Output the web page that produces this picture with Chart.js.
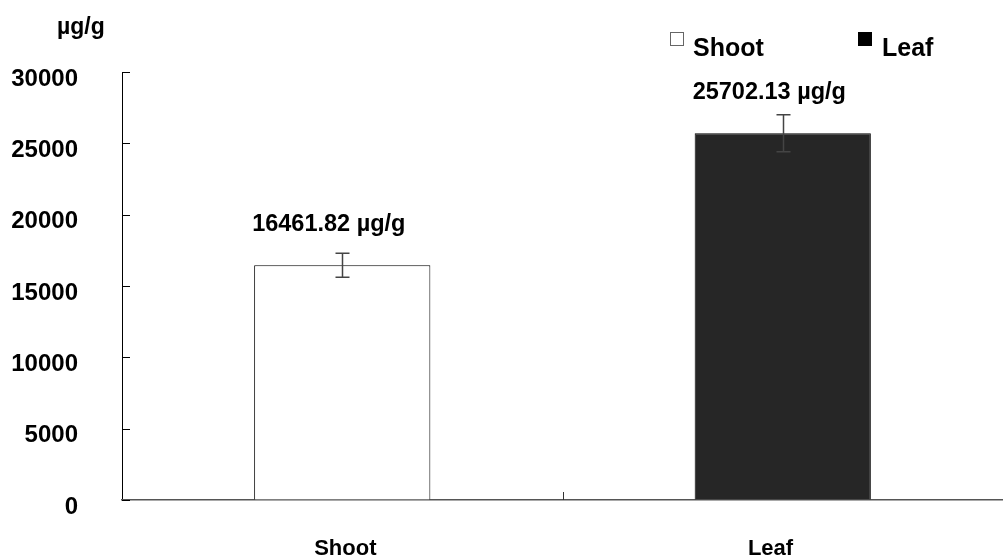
<!DOCTYPE html>
<html>
<head>
<meta charset="utf-8">
<script src="https://cdn.jsdelivr.net/npm/chart.js@4/dist/chart.umd.min.js"></script>
<style>
    html, body { margin: 0; padding: 0; background: #fff; }
    #wrap { width: 1003px; height: 559px; position: relative; }
</style>
</head>
<body>
<div id="wrap"><canvas id="chartTeor"></canvas></div>
<script>
// dados
const categorias = ['Shoot', 'Leaf'];
const valores = [16461.82, 25702.13];
const erros = [840, 1300];
const rotulosValor = ['16461.82 µg/g', '25702.13 µg/g'];
const coresBarra = ['#ffffff', '#262626'];
const ticksY = [0, 5000, 10000, 15000, 20000, 25000, 30000];

const fonte = '"Liberation Sans", Arial, sans-serif';

const pluginExtras = {
    id: 'extras',
    afterDatasetsDraw(chart) {
        const ctx = chart.ctx;
        const area = chart.chartArea;
        const y = chart.scales.y;
        const meta = chart.getDatasetMeta(0);

        ctx.save();

        // marcas do eixo y (para dentro)
        ctx.strokeStyle = '#000';
        ctx.lineWidth = 1;
        ticksY.forEach(function(v) {
            const py = Math.round(y.getPixelForValue(v)) + 0.5;
            ctx.beginPath();
            ctx.moveTo(area.left, py);
            ctx.lineTo(area.left + 8, py);
            ctx.stroke();
        });

        // marca central do eixo x
        const meio = Math.round((area.left + area.right) / 2) + 0.5;
        ctx.strokeStyle = '#333';
        ctx.beginPath();
        ctx.moveTo(meio, area.bottom);
        ctx.lineTo(meio, area.bottom - 8);
        ctx.stroke();

        // barras de erro
        ctx.strokeStyle = '#444';
        ctx.lineWidth = 1.5;
        meta.data.forEach(function(bar, i) {
            const cx = Math.round(bar.x) + 0.5;
            const topo = y.getPixelForValue(valores[i] + erros[i]);
            const base = y.getPixelForValue(valores[i] - erros[i]);
            ctx.beginPath();
            ctx.moveTo(cx, topo);
            ctx.lineTo(cx, base);
            ctx.moveTo(cx - 7, topo);
            ctx.lineTo(cx + 7, topo);
            ctx.moveTo(cx - 7, base);
            ctx.lineTo(cx + 7, base);
            ctx.stroke();
        });

        // rótulos de valor
        ctx.fillStyle = '#000';
        ctx.font = 'bold 23.5px ' + fonte;
        ctx.textAlign = 'left';
        ctx.textBaseline = 'middle';
        meta.data.forEach(function(bar, i) {
            ctx.fillText(rotulosValor[i], bar.x - bar.width / 2 - 2, bar.y - 41);
        });

        // unidade do eixo y
        ctx.font = 'bold 23px ' + fonte;
        ctx.textBaseline = 'middle';
        ctx.fillText('µg/g', 57, 28);

        // legenda
        ctx.lineWidth = 1;
        ctx.strokeStyle = '#666';
        ctx.fillStyle = '#fff';
        ctx.fillRect(670.5, 32.5, 13, 13);
        ctx.strokeRect(670.5, 32.5, 13, 13);
        ctx.fillStyle = '#000';
        ctx.fillRect(858, 32, 14, 14);
        ctx.font = 'bold 25px ' + fonte;
        ctx.textBaseline = 'alphabetic';
        ctx.fillText(categorias[0], 693, 56);
        ctx.fillText(categorias[1], 882, 56);

        ctx.restore();
    }
};

new Chart(document.getElementById('chartTeor').getContext('2d'), {
    type: 'bar',
    data: {
        labels: categorias,
        datasets: [{
            data: valores,
            backgroundColor: coresBarra,
            borderColor: '#000',
            borderWidth: 1,
            barPercentage: 0.4,
            categoryPercentage: 1.0
        }]
    },
    options: {
        responsive: true,
        maintainAspectRatio: false,
        animation: false,
        layout: { padding: { top: 72, right: 0, left: 0, bottom: 0 } },
        plugins: {
            legend: { display: false },
            tooltip: { enabled: false }
        },
        scales: {
            y: {
                min: 0,
                max: 30000,
                afterFit: function(scale) { scale.width = 122; },
                afterBuildTicks: function(scale) {
                    scale.ticks = ticksY.map(v => ({ value: v }));
                },
                ticks: {
                    color: '#000',
                    font: { family: fonte, size: 24, weight: 'bold' },
                    padding: 44,
                    labelOffset: 7,
                    callback: function(value) { return String(value); }
                },
                grid: { drawOnChartArea: false, drawTicks: false },
                border: { color: '#000', width: 1 }
            },
            x: {
                afterFit: function(scale) { scale.height = 59; },
                ticks: {
                    color: '#000',
                    font: { family: fonte, size: 22, weight: 'bold' },
                    padding: 36,
                    // no original o rótulo "Leaf" fica um pouco à esquerda do centro da barra
                    callback: function(value, index) {
                        const nome = categorias[index];
                        return index === 1 ? nome + '\u00a0\u00a0\u00a0\u00a0' : '\u00a0' + nome;
                    }
                },
                grid: { drawOnChartArea: false, drawTicks: false },
                border: { color: '#555', width: 1.5 }
            }
        }
    },
    plugins: [pluginExtras]
});
</script>
</body>
</html>
